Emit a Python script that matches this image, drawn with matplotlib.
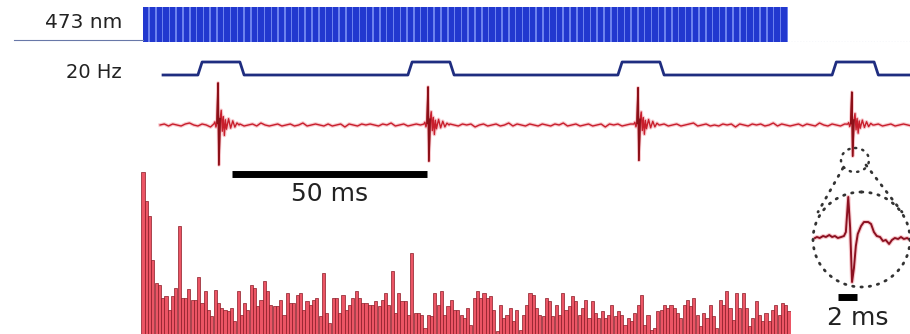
import numpy as np
import matplotlib.pyplot as plt
from matplotlib.patches import Ellipse

W, H = 910, 334

# --- data ---
light_pulse_count = 95
pulse_onsets_ms = [0, 50, 100, 151]
pulse_width_ms = 10
square_start_ms = -8.8

spike_times_ms = [4.3, 54.3, 104.3, 155.2]
spike_scale = [1.05, 0.95, 0.93, 0.82]
spike_offsets_ms = [-1.0, -0.75, -0.5, -0.25, 0, 0.2, 0.5, 0.75, 1.0, 1.25,
                    1.5, 1.75, 2.0, 2.5, 3.0, 3.5, 4.0, 4.5, 5.0]
spike_shape_uv = [1, 3, -2, 2, 40, -38, 6, 14, -6, 8,
                  -10, 5, -4, 6, -3, 4, -2, 2, 0]

noise_start_ms = -9.5
trace_noise_uv = [
    0, 1, -1, 1, 0, -1, 1, 2, 0, -1, 1, 0, -2, 1, 1, 0, -1, 1, 0, 1,
    -1, 0, 1, -1, 2, 0, -1, 0, 1, -1, 0, 1, -1, 0, 2, -1, 0, 1, 0, -1,
    1, -1, 0, 1, -2, 1, 0, -1, 1, 0, 1, 0, -1, 1, 0, 2, -1, 0, 1, -1,
    0, 1, 0, -1, 1, -1, 2, 0, -1, 1, 0, -1, 1, 0, 1, -2, 0, 1, -1, 0,
    1, -1, 0, 2, -1, 1, 0, -1, 1, 0, -1, 1, 0, -1, 1, 0, 2, -1, 0, 1,
    -1, 0, 1, -1, 0, 1, -2, 1, 0, 1, -1, 0, 1, 0, -1, 2, 0, -1, 1, 0,
    1, -1, 0, 1, -1, 0, 1, 2, -1, 0, 1, -1, 0, -1, 1, 0, 1, -2, 1, 0,
    -1, 1, 0, 1, -1, 0, 2, -1, 1, 0, -1, 0, 1, -1, 1, 0, -1, 2, 0, -1,
    1, 0, -1, 1, 0, -1, 1, 0, 2, -1, 0, 1, -1, 0, 1, -1, 0, 1, 0, -1,
]

psth_counts = [
    176, 147, 132, 88, 65, 63, 50, 52, 38, 52, 60, 122, 50, 50, 59, 48, 48, 71, 45, 57,
    38, 32, 58, 45, 40, 38, 37, 40, 27, 57, 33, 45, 38, 63, 60, 42, 48, 67, 57, 43,
    42, 42, 48, 33, 55, 45, 45, 53,
    55, 38, 47, 43, 48, 50, 32, 75, 35, 25, 50, 50, 35, 53, 38, 43, 50, 57, 50, 45,
    45, 43, 43, 47, 42, 48, 55, 43, 77, 35, 55, 47, 47, 33, 95, 35, 35, 33, 20, 33,
    32, 55, 43, 57, 33, 42, 48, 38,
    38, 33, 30, 40, 23, 50, 57, 50, 55, 50, 52, 38, 17, 43, 30, 33, 40, 27, 38, 18,
    33, 43, 55, 53, 40, 33, 32, 50, 47, 32, 43, 33, 55, 38, 42, 52, 47, 33, 40, 48,
    30, 47, 35, 30, 37, 30, 33, 43, 32, 37,
    33, 23, 30, 27, 35, 43, 53, 23, 33, 18, 20, 37, 38, 43, 40, 43, 40, 35, 30, 43,
    48, 42, 50, 33, 22, 35, 30, 43, 32, 20, 48, 43, 57, 40, 28, 55, 40, 55, 40, 22,
    30, 47, 33, 27, 35, 27, 38, 43, 33, 45, 43, 37,
]

inset_t_ms = [0, 0.2, 0.5, 0.85, 1.15, 1.5, 1.8, 2.1, 2.4, 2.75, 3.05, 3.25, 3.5, 3.7,
              3.9, 4.1, 4.3, 4.5, 4.85, 5.15, 5.6, 5.9, 6.2, 6.5, 6.85, 7.15, 7.45,
              7.8, 8.1, 8.4, 8.75, 9.05, 9.35, 9.7, 10.0]
inset_uv = [0, 1, 0, 2, 1, 3, 1, 2, 0, 1, 2, 6, 41, 10,
            -44, -30, -8, 4, 12, 16, 16, 14, 6, 2, 1, -3, -2,
            -6, -2, 0, -1, 1, -1, 0, -2]

# --- layout ---
fig = plt.figure(figsize=(W / 100, H / 100), dpi=100)
fig.patch.set_facecolor('white')


def px_axes(x0, y0, x1, y1, z=1):
    ax = fig.add_axes([x0 / W, 1 - y1 / H, (x1 - x0) / W, (y1 - y0) / H], zorder=z)
    ax.set_axis_off()
    return ax


px_per_ms = 4.2
t0_px = 200
t_lim = (-t0_px / px_per_ms, (W - t0_px) / px_per_ms)

# 473 nm light pulse train
pulse_px = 6.79
ax_top = px_axes(0, 7, W, 42)
ax_top.set_xlim(-143 / pulse_px, (W - 143) / pulse_px)
ax_top.set_ylim(0, 1)
ax_top.axvspan(0, light_pulse_count, color='#6d82ee', lw=0)
ax_top.bar(np.arange(light_pulse_count), 1, width=0.78, align='edge',
           color='#2238cf', lw=0)
ax_top.plot([-19, 0], [0.05, 0.05], color='#6878a8', lw=0.8)
ax_top.plot([light_pulse_count, 113], [0.0, 0.0], color='#7888b8', lw=0.8, ls=':')

# 20 Hz square wave
ax_sq = px_axes(0, 50, W, 85)
ax_sq.set_xlim(*t_lim)
ax_sq.set_ylim(-10 / 13, 25 / 13)
sq_t, sq_v = [square_start_ms], [0]
for on in pulse_onsets_ms:
    off = on + pulse_width_ms
    sq_t += [on - 0.5, on + 0.5, off - 0.5, off + 0.5]
    sq_v += [0, 1, 1, 0]
sq_t.append(t_lim[1])
sq_v.append(0)
ax_sq.plot(sq_t, sq_v, color='#1f2d80', lw=2.0)

# red extracellular trace
ax_tr = px_axes(0, 80, W, 170)
ax_tr.set_xlim(*t_lim)
ax_tr.set_ylim(-45, 45)
nt = noise_start_ms + np.arange(len(trace_noise_uv))
nv = np.array(trace_noise_uv, dtype=float)
keep = np.ones(len(nt), bool)
st, sv = [], []
for ts, sc in zip(spike_times_ms, spike_scale):
    keep &= ~((nt >= ts + spike_offsets_ms[0]) & (nt <= ts + spike_offsets_ms[-1]))
    st.append(ts + np.array(spike_offsets_ms))
    sv.append(sc * np.array(spike_shape_uv))
tt = np.concatenate([nt[keep]] + st)
vv = np.concatenate([nv[keep]] + sv)
order = np.argsort(tt)
ax_tr.plot(tt[order], vv[order], color='#f4a4ac', lw=2.6, alpha=0.6, clip_on=False)
ax_tr.plot(tt[order], vv[order], color='#c81e2c', lw=1.0, clip_on=False)
for t_s, v_s in zip(st, sv):
    ax_tr.plot(t_s[3:7], v_s[3:7], color='#8c1018', lw=1.2, clip_on=False)

# PSTH
n_bins = len(psth_counts)
sp = (789 - 143) / (n_bins - 1)
ax_h = px_axes(143 - 0.5 * sp, 160, 789 + 0.5 * sp, H)
ax_h.set_xlim(-0.5, n_bins - 0.5)
ax_h.set_ylim(14, 188)
ax_h.bar(np.arange(n_bins), psth_counts, width=0.95, color='#ec5565',
         edgecolor='#8a1a25', lw=0.5)

# inset spike waveform
ax_in = px_axes(815, 190, 910, 290, z=3)
ax_in.set_xlim(0, 10)
ax_in.set_ylim(-52, 48)
ax_in.plot(inset_t_ms, inset_uv, color='#f4a4ac', lw=3, alpha=0.6, clip_on=False)
ax_in.plot(inset_t_ms, inset_uv, color='#8c1020', lw=1.4, clip_on=False)

# labels, scale bars, magnifier outline
ov = px_axes(0, 0, W, H, z=5)
ov.set_xlim(0, W)
ov.set_ylim(H, 0)
ov.patch.set_alpha(0)
ov.text(122, 22, '473 nm', ha='right', va='center', fontsize=14.5, color='#222222')
ov.text(122, 73, '20 Hz', ha='right', va='center', fontsize=14, color='#222222')
ov.plot([232, 427], [173.5, 173.5], color='black', lw=5, solid_capstyle='butt')
ov.text(330, 194, '50 ms', ha='center', va='center', fontsize=18, color='#222222')
ov.plot([838, 857], [296.5, 296.5], color='black', lw=5, solid_capstyle='butt')
ov.text(858, 318, '2 ms', ha='center', va='center', fontsize=18, color='#222222')

dots = dict(ls=(0, (0.5, 2.5)), lw=2, color='#333333', dash_capstyle='round')
ov.add_patch(Ellipse((861.5, 239.5), 97, 95, fill=False, ec='#333333',
                     lw=2, ls=(0, (0.5, 2.5)), capstyle='round'))
ov.add_patch(Ellipse((855, 160), 28, 24, fill=False, ec='#333333',
                     lw=1.8, ls=(0, (0.5, 2.5)), capstyle='round'))
ov.plot([843, 818], [168, 212], **dots)
ov.plot([866, 902], [165, 212], **dots)

fig.savefig('out.png', dpi=100, facecolor='white')
